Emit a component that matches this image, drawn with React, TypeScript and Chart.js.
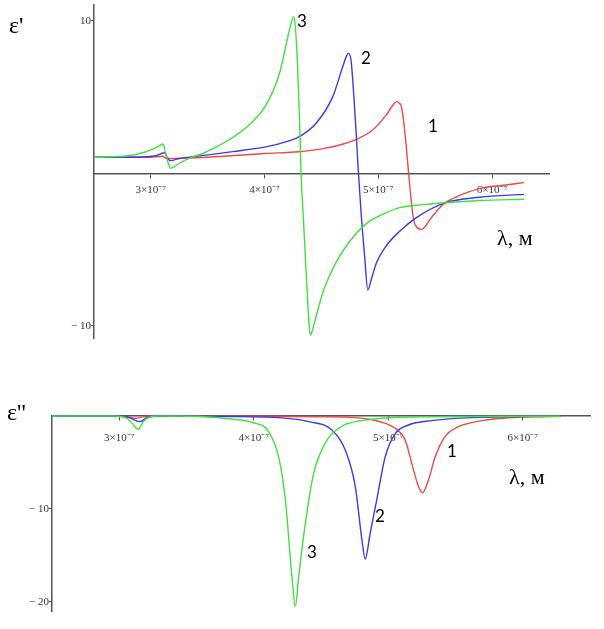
import { useEffect, useRef } from 'react';
import Chart from 'chart.js/auto';

// wavelength in nm (axis labels show it as n×10⁻⁷ m)
// ε' (real part), curves 1 (red), 2 (blue), 3 (green)
const re1Lambda = [250, 280, 300, 306, 310, 314, 320, 340, 370, 400, 430, 450, 466, 480.7, 495, 507, 512.8, 516.1, 518.5, 520.2, 523.1, 526.6, 529, 531, 534, 537.7, 541, 545, 551, 558, 570, 589, 610, 628];
const re1 = [1.05, 1.05, 1.05, 1.1, 1.12, 0.97, 0.98, 1.02, 1.15, 1.3, 1.42, 1.6, 1.86, 2.23, 2.84, 3.83, 4.48, 4.7, 4.6, 4.37, 2.84, 0, -1.9, -3.06, -3.55, -3.68, -3.5, -3.06, -2.5, -1.97, -1.5, -1.0, -0.78, -0.61];

const re2Lambda = [250, 290, 304, 312, 314.5, 317.4, 324, 340, 372, 402, 420, 430.7, 445.3, 459.9, 468.7, 472, 473.7, 476, 478.5, 480.5, 482.5, 485, 488, 490.7, 494, 498.2, 507, 518.7, 533.4, 558, 589, 628];
const re2 = [1.05, 1.07, 1.15, 1.35, 1.0, 0.83, 0.95, 1.12, 1.42, 1.75, 2.1, 2.41, 3.28, 5.03, 7.0, 7.7, 7.87, 7.4, 5.0, 2.6, 0, -2.8, -5.5, -7.66, -6.9, -5.9, -4.75, -3.8, -2.9, -1.95, -1.57, -1.38];

const re3Lambda = [250, 280, 295, 305, 310.6, 313, 315.5, 317.4, 321, 325, 334, 344, 358, 373, 386.8, 401.4, 413.1, 420.4, 423.5, 425.5, 427, 429, 431.1, 432, 434, 436, 438, 439.3, 440.2, 442, 444.5, 447, 450, 454.3, 461.6, 473.3, 484.3, 493, 501.9, 518.7, 540, 558, 589, 628];
const re3 = [1.05, 1.15, 1.4, 1.7, 1.92, 1.3, 0.6, 0.33, 0.45, 0.66, 1.0, 1.25, 1.75, 2.4, 3.2, 4.5, 6.56, 8.96, 9.9, 10.28, 9.6, 7.0, 2.6, 0, -2.8, -5.8, -8.6, -10.1, -10.6, -10.3, -9.6, -8.9, -8.1, -7.2, -6.0, -4.6, -3.65, -3.1, -2.75, -2.25, -2.05, -1.93, -1.78, -1.7];

// ε'' (imaginary part)
const im1Lambda = [250, 300, 307, 312, 317, 325, 400, 450, 473, 488, 498, 505, 512.6, 517.5, 522.5, 525.6, 529.9, 534.9, 542.3, 552.2, 569.5, 589.3, 610, 628];
const im1 = [0, 0, -0.1, -0.25, -0.1, 0, -0.03, -0.08, -0.15, -0.4, -0.8, -1.3, -2.6, -5.1, -7.6, -8.25, -6.9, -4.4, -2.2, -1.15, -0.5, -0.2, -0.08, -0.04];

const im2Lambda = [250, 300, 308, 313, 316, 320, 330, 380, 421, 440.8, 458.1, 468, 475.5, 480.4, 482.9, 486.6, 491.5, 497.7, 505.2, 515, 532.3, 557, 600, 628];
const im2 = [0, 0, -0.2, -0.55, -0.6, -0.2, 0, -0.05, -0.2, -0.6, -1.5, -3.65, -7.6, -13.3, -15.4, -12.6, -9.0, -4.4, -1.9, -0.97, -0.5, -0.2, -0.06, -0.03];

const im3Lambda = [250, 295, 305, 309, 314, 318, 322, 330, 360, 385, 399.2, 411.1, 418.5, 423.5, 428.4, 430.9, 433.4, 438.4, 444.5, 453.2, 465.5, 480.4, 500, 530, 628];
const im3 = [0, 0, -0.2, -0.7, -1.43, -0.6, -0.15, 0, -0.05, -0.35, -0.7, -1.7, -4.4, -9.0, -17.3, -20.5, -17.3, -11.5, -6.2, -2.9, -1.1, -0.5, -0.2, -0.08, -0.02];

const xTicks = [300, 400, 500, 600];
const reYTicks = [-10, 10];
const imYTicks = [-20, -10];

const RED = '#ec4a48';
const BLUE = '#3b3be2';
const GREEN = '#40e040';
const AXIS = '#555555';
const TICK_FONT = { family: '"Liberation Serif", serif', size: 11 };
const Y_AXIS_W = 40;

const pts = (l: number[], v: number[]) => l.map((x, i) => ({ x, y: v[i] }));

const fitX = (s: any) => {
  s.height = 0;
  s.paddingLeft = 0;
  s.paddingRight = 0;
  s.paddingTop = 0;
  s.paddingBottom = 0;
};

const fitY = (s: any) => {
  s.width = Y_AXIS_W;
  s.paddingLeft = 0;
  s.paddingRight = 0;
  s.paddingTop = 0;
  s.paddingBottom = 0;
};

const yLabel = (v: number | string) => {
  const n = Number(v);
  return n < 0 ? `\u2212 ${Math.abs(n)}` : `${n}`;
};

function buildChart(
  canvas: HTMLCanvasElement,
  series: { l: number[]; v: number[]; color: string; order: number }[],
  yMin: number,
  yMax: number,
  yTicks: number[],
  area: { left: number; right: number; top: number; bottom: number },
  xLabelPad: number,
) {
  return new Chart(canvas, {
    type: 'line',
    data: {
      datasets: series.map(s => ({
        data: pts(s.l, s.v),
        borderColor: s.color,
        borderWidth: 1.4,
        pointRadius: 0,
        cubicInterpolationMode: 'monotone' as const,
        clip: false as any,
        order: s.order,
      })),
    },
    options: {
      animation: false,
      responsive: true,
      maintainAspectRatio: false,
      layout: { padding: { ...area, left: area.left - Y_AXIS_W } },
      plugins: { legend: { display: false }, tooltip: { enabled: false } },
      scales: {
        x: {
          type: 'linear',
          min: 250,
          max: 650,
          position: { y: 0 } as any,
          afterBuildTicks: (s: any) => { s.ticks = xTicks.map(value => ({ value })); },
          afterFit: fitX,
          grid: { drawOnChartArea: false, drawTicks: true, tickLength: 4, color: AXIS },
          border: { display: true, color: AXIS, width: 1.5 },
          ticks: {
            autoSkip: false,
            maxRotation: 0,
            padding: xLabelPad,
            color: '#333',
            font: TICK_FONT,
            callback: (v: any) => `${Number(v) / 100}×10⁻⁷`,
          },
        },
        y: {
          type: 'linear',
          min: yMin,
          max: yMax,
          position: 'left',
          afterBuildTicks: (s: any) => { s.ticks = yTicks.map(value => ({ value })); },
          afterFit: fitY,
          grid: { drawOnChartArea: false, drawTicks: true, tickLength: 3, color: AXIS },
          border: { display: true, color: AXIS, width: 1.5 },
          ticks: { padding: 0, color: '#333', font: TICK_FONT, callback: yLabel },
        },
      },
    },
  });
}

const serif = '"Liberation Serif", "Times New Roman", serif';
const sans = 'Lato, "Open Sans", sans-serif';

const Txt = ({ x, y, size, font, children }: any) => (
  <div style={{ position: 'absolute', left: x, top: y, fontSize: size, fontFamily: font, lineHeight: 1, whiteSpace: 'nowrap', color: '#000' }}>
    {children}
  </div>
);

export default function App() {
  const reRef = useRef<HTMLCanvasElement>(null);
  const imRef = useRef<HTMLCanvasElement>(null);

  useEffect(() => {
    if (!reRef.current || !imRef.current) return;
    const re = buildChart(
      reRef.current,
      [
        { l: re1Lambda, v: re1, color: RED, order: 3 },
        { l: re2Lambda, v: re2, color: BLUE, order: 2 },
        { l: re3Lambda, v: re3, color: GREEN, order: 1 },
      ],
      -10.8, 11.04, reYTicks,
      { left: 94, right: 55, top: 5, bottom: 12 },
      6,
    );
    const im = buildChart(
      imRef.current,
      [
        { l: im1Lambda, v: im1, color: RED, order: 3 },
        { l: im2Lambda, v: im2, color: BLUE, order: 2 },
        { l: im3Lambda, v: im3, color: GREEN, order: 1 },
      ],
      -21, 0, imYTicks,
      { left: 52, right: 14, top: 26, bottom: 18 },
      12,
    );
    return () => {
      re.destroy();
      im.destroy();
    };
  }, []);

  return (
    <div style={{ position: 'absolute', left: 0, top: 0, width: 604, height: 629, background: '#fff', overflow: 'hidden' }}>
      <div style={{ position: 'absolute', left: 0, top: 0, width: 604, height: 350 }}>
        <canvas ref={reRef}></canvas>
      </div>
      <div style={{ position: 'absolute', left: 0, top: 390, width: 604, height: 239 }}>
        <canvas ref={imRef}></canvas>
      </div>
      <Txt x={9} y={13} size={24} font={serif}>ε'</Txt>
      <Txt x={7} y={400} size={24} font={serif}>ε''</Txt>
      <Txt x={497} y={227} size={22} font={serif}>λ, м</Txt>
      <Txt x={509} y={466} size={22} font={serif}>λ, м</Txt>
      <Txt x={297} y={12} size={17} font={sans}>3</Txt>
      <Txt x={361} y={49} size={17} font={sans}>2</Txt>
      <Txt x={428} y={117} size={17} font={sans}>1</Txt>
      <Txt x={447} y={442} size={17} font={sans}>1</Txt>
      <Txt x={375} y={507} size={17} font={sans}>2</Txt>
      <Txt x={307} y={543} size={17} font={sans}>3</Txt>
    </div>
  );
}
